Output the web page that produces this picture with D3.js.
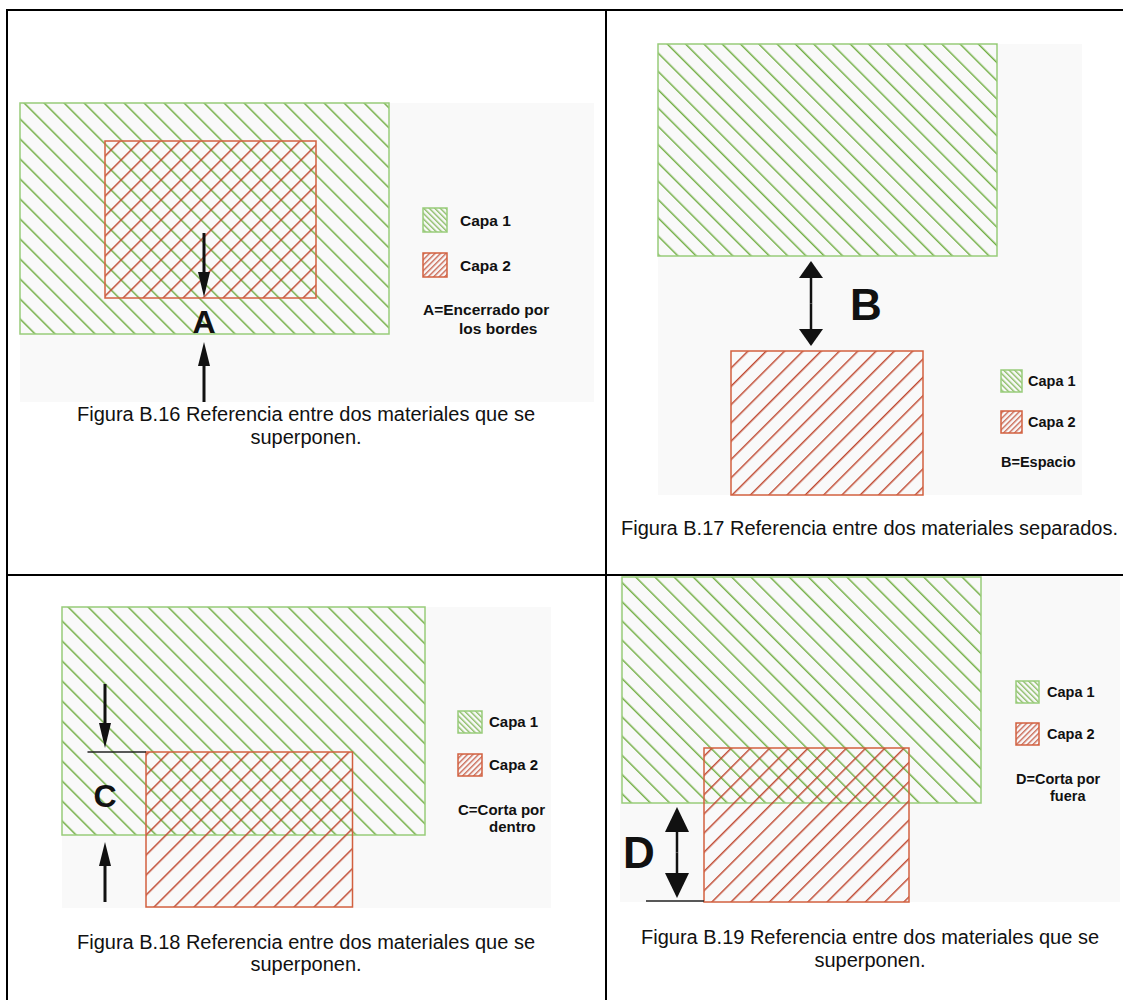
<!DOCTYPE html>
<html>
<head>
<meta charset="utf-8">
<script src="https://cdn.jsdelivr.net/npm/d3@7"></script>
<style>
body {margin:0; background:#fff}
svg {display:block}
</style>
</head>
<body>
<svg id="viz"></svg>
<script>
//Figure texts
var captions = [
	["Figura B.16 Referencia entre dos materiales que se", "superponen."],
	["Figura B.17 Referencia entre dos materiales separados."],
	["Figura B.18 Referencia entre dos materiales que se", "superponen."],
	["Figura B.19 Referencia entre dos materiales que se", "superponen."]]
var legendLabels = ["Capa 1", "Capa 2"]
var letters = ["A", "B", "C", "D"]
var notes = [["A=Encerrado por", "los bordes"], ["B=Espacio"], ["C=Corta por", "dentro"], ["D=Corta por", "fuera"]]

//Layer extents, in each figure's own units: [x, y, w, h]
var capa1 = [[0, 0, 369, 231], [0, 0, 339, 212], [0, 0, 363, 228], [2, 0, 359, 226]]
var capa2 = [[85, 38, 211, 157], [73, 307, 192, 144], [84, 145, 206.5, 155], [84, 171, 205, 154]]
//Marked distance: [x, y1, y2] and kind of arrows
var gaps = [[184, 194, 239], [153, 217, 302], [43, 141, 235], [57, 230, 321]]
var gapKind = ["in", "out", "in", "out"]

//Set the size and select the svg.
var width = 1123
var height = 1000
var svg = d3.select("#viz").attr("width", width).attr("height", height)
var font = "'Liberation Sans', Arial, Helvetica, sans-serif"

//where each figure sits on the page: x, y, w, h
var frames = [[20, 103, 574, 299], [658, 44, 424, 451], [62, 607, 489, 301], [620, 577, 500, 325]]
var hatchStep = [20, 18.3, 20, 19.2]
var legendPos = [ // swatch x, y, w, h, row step, text x, font
	[403, 105, 24, 24, 45, 440, 15.5],
	[343, 326, 21, 22, 41, 370, 14.5],
	[396, 104, 24, 22, 43, 427, 15],
	[396, 104, 23, 22, 42, 427, 14.5]]
var noteLayout = [[403, 212, 439, 231], [343, 423], [396, 208, 427, 225], [396, 207, 430, 224]]
var letterLayout = [[184, 230, "middle", 32], [192, 276, "start", 44], [43, 200, "middle", 32], [3, 291, "start", 44]]
var refLines = [null, null, [25.5, 84, 145], [26, 84, 324]]
var captionLayout = [[286, 318, 23], [211.5, 491, 0], [244, 342, 22], [250, 367, 23]]

var green = "#6cab3c", greenEdge = "#98cc7a"
var red = "#bd4128", redEdge = "#d2603f"
var bg = "#f9f9f9"

var defs = svg.append("defs")
function hatch(id, color, step, dir, sw) {
	var perp = step / Math.SQRT2
	var p = defs.append("pattern").attr("id", id)
		.attr("patternUnits", "userSpaceOnUse")
		.attr("width", perp).attr("height", 10)
		.attr("patternTransform", "rotate(" + (dir == "back" ? -45 : 45) + ")")
	p.append("line").attr("x1", 0.75).attr("x2", 0.75).attr("y1", -1).attr("y2", 11)
		.attr("stroke", color).attr("stroke-width", sw || 1.4)
}
hatchStep.forEach(function(s, i) {
	hatch("g" + i, green, s, "back")
	hatch("r" + i, red, s, "fwd")
})
hatch("gs", green, 5.5, "back", 1.1)
hatch("rs", red, 5.5, "fwd", 1.1)

//table lines
var grid = svg.append("g").attr("stroke", "#000").attr("stroke-width", 2)
grid.append("line").attr("x1", 7).attr("x2", 7).attr("y1", 9).attr("y2", 1000)
grid.append("line").attr("x1", 6).attr("x2", 1123).attr("y1", 10).attr("y2", 10)
grid.append("line").attr("x1", 606).attr("x2", 606).attr("y1", 9).attr("y2", 1000)
grid.append("line").attr("x1", 6).attr("x2", 1123).attr("y1", 575).attr("y2", 575)

function arrow(g, x, yFrom, yTo, shaft, headW, headL) {
	var dir = yTo > yFrom ? 1 : -1
	var yBase = yTo - dir * headL
	g.append("line").attr("x1", x).attr("x2", x).attr("y1", yFrom).attr("y2", yBase + dir)
		.attr("stroke", "#111").attr("stroke-width", shaft)
	g.append("path").attr("fill", "#111")
		.attr("d", d3.line()([[x - headW / 2, yBase], [x + headW / 2, yBase], [x, yTo]]) + "Z")
}

frames.forEach(function(f, i) {
	var x = d3.scaleLinear().domain([0, f[2]]).range([f[0], f[0] + f[2]])
	var y = d3.scaleLinear().domain([0, f[3]]).range([f[1], f[1] + f[3]])
	var g = svg.append("g")

	g.append("rect").attr("x", x(0)).attr("y", y(0))
		.attr("width", x(f[2]) - x(0)).attr("height", y(f[3]) - y(0)).attr("fill", bg)

	var c1 = capa1[i], c2 = capa2[i]
	g.append("rect").attr("x", x(c1[0])).attr("y", y(c1[1]))
		.attr("width", x(c1[0] + c1[2]) - x(c1[0])).attr("height", y(c1[1] + c1[3]) - y(c1[1]))
		.attr("fill", "url(#g" + i + ")").attr("stroke", greenEdge).attr("stroke-width", 1.5)
	g.append("rect").attr("x", x(c2[0])).attr("y", y(c2[1]))
		.attr("width", x(c2[0] + c2[2]) - x(c2[0])).attr("height", y(c2[1] + c2[3]) - y(c2[1]))
		.attr("fill", "url(#r" + i + ")").attr("stroke", redEdge).attr("stroke-width", 1.5)

	//reference line
	var rl = refLines[i]
	if (rl) {
		g.append("line").attr("x1", x(rl[0])).attr("x2", x(rl[1])).attr("y1", y(rl[2])).attr("y2", y(rl[2]))
			.attr("stroke", "#222").attr("stroke-width", 1.3)
	}

	//arrows
	var gp = gaps[i]
	if (gapKind[i] == "in") {
		arrow(g, x(gp[0]), y(gp[1] - 64), y(gp[1]), 3, 12, 25)
		arrow(g, x(gp[0]), y(gp[2] + 60), y(gp[2]), 3, 12, 24)
	} else {
		var hl = i == 1 ? 17 : 25
		var mid = (gp[1] + gp[2]) / 2
		arrow(g, x(gp[0]), y(mid), y(gp[1]), 2.5, 24, hl)
		arrow(g, x(gp[0]), y(mid), y(gp[2]), 2.5, 24, hl)
	}
	var ll = letterLayout[i]
	g.append("text").attr("x", x(ll[0])).attr("y", y(ll[1]))
		.attr("text-anchor", ll[2]).attr("font-family", font).attr("font-weight", "bold")
		.attr("font-size", ll[3]).attr("fill", "#111").text(letters[i])

	//legend
	var lp = legendPos[i]
	legendLabels.forEach(function(lab, k) {
		var sy = lp[1] + k * lp[4]
		g.append("rect").attr("x", x(lp[0])).attr("y", y(sy))
			.attr("width", lp[2]).attr("height", lp[3])
			.attr("fill", k == 0 ? "url(#gs)" : "url(#rs)")
			.attr("stroke", k == 0 ? greenEdge : redEdge).attr("stroke-width", 1.5)
		g.append("text").attr("x", x(lp[5])).attr("y", y(sy + lp[3] * 0.5 + lp[6] * 0.36))
			.attr("font-family", font).attr("font-weight", "bold").attr("font-size", lp[6])
			.attr("fill", "#111").text(lab)
	})
	var nl = noteLayout[i]
	notes[i].forEach(function(t, k) {
		g.append("text").attr("x", x(nl[k * 2])).attr("y", y(nl[k * 2 + 1]))
			.attr("font-family", font).attr("font-weight", "bold").attr("font-size", lp[6])
			.attr("fill", "#111").text(t)
	})

	//caption
	var cl = captionLayout[i]
	captions[i].forEach(function(t, k) {
		g.append("text").attr("x", x(cl[0])).attr("y", y(cl[1] + k * cl[2]))
			.attr("text-anchor", "middle").attr("font-family", font).attr("font-size", 20)
			.attr("fill", "#111").text(t)
	})
})
</script>
</body>
</html>
